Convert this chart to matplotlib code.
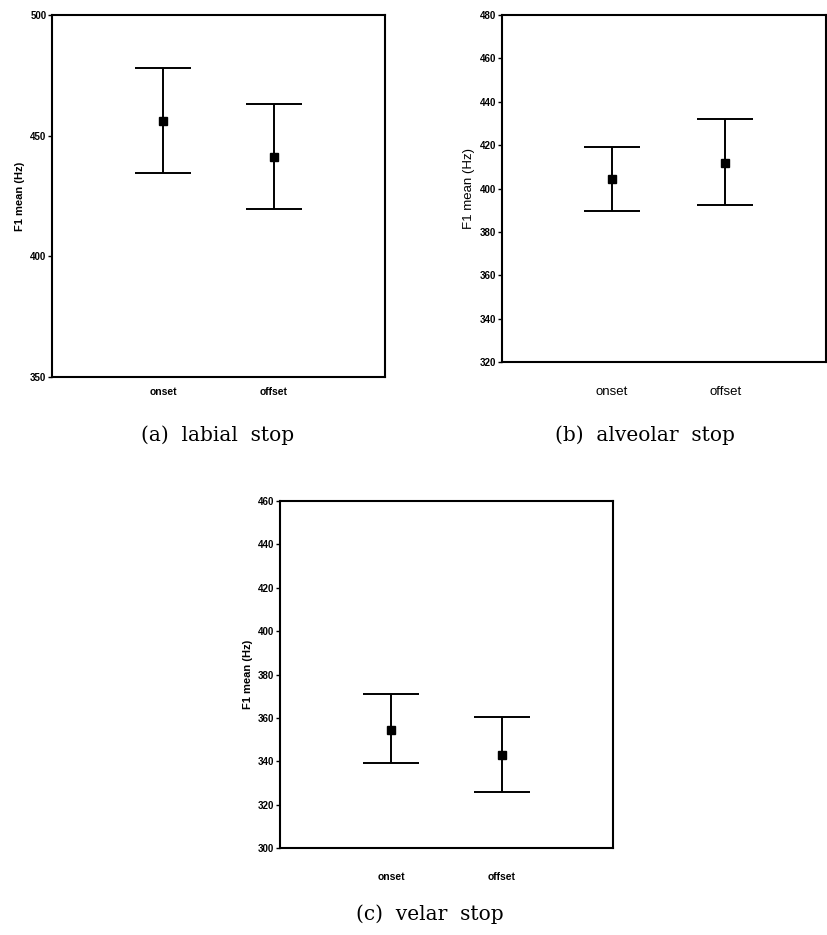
import matplotlib
matplotlib.use('Agg')
import matplotlib.pyplot as plt

# F1 means with upper / lower error bar ends (Hz)
categories = ['onset', 'offset']

labial_mean = [456.0, 441.3]
labial_upper = [478.0, 463.0]
labial_lower = [434.4, 419.5]

alveolar_mean = [404.5, 411.8]
alveolar_upper = [419.3, 432.2]
alveolar_lower = [389.5, 392.5]

velar_mean = [354.6, 343.0]
velar_upper = [371.0, 360.2]
velar_lower = [339.4, 326.0]

labial_ticks = [350, 400, 450, 500]
alveolar_ticks = [320, 340, 360, 380, 400, 420, 440, 460, 480]
velar_ticks = [300, 320, 340, 360, 380, 400, 420, 440, 460]

captions = ['(a)  labial  stop', '(b)  alveolar  stop', '(c)  velar  stop']

SANS = 'Liberation Sans'
SERIF = 'DejaVu Serif'


def draw_panel(ax, means, upper, lower, ticks, bold=True, xfont=7.5,
               xpad=12, xlim=(0, 3)):
    xs = [1, 2]
    err = [[m - lo for m, lo in zip(means, lower)],
           [hi - m for m, hi in zip(means, upper)]]
    ax.errorbar(xs, means, yerr=err, fmt='s', color='black',
                markersize=6, elinewidth=1.4, capsize=20, capthick=1.4)
    ax.set_xlim(*xlim)
    ax.set_ylim(ticks[0], ticks[-1])
    ax.set_yticks(ticks)
    ax.set_xticks(xs)
    weight = 'bold' if bold else 'normal'
    ax.set_yticklabels([str(t) for t in ticks], fontfamily=SANS,
                       fontweight='bold', fontsize=7)
    ax.set_xticklabels(categories, fontfamily=SANS, fontweight=weight,
                       fontsize=xfont)
    ax.tick_params(axis='x', length=0, pad=xpad)
    ax.tick_params(axis='y', length=3, width=1, pad=1, direction='out')
    ax.set_ylabel('F1 mean (Hz)', fontfamily=SANS, fontweight=weight,
                  fontsize=8 if bold else 9.5, labelpad=4)
    for sp in ax.spines.values():
        sp.set_linewidth(1.5)
        sp.set_color('black')


fig = plt.figure(figsize=(8.27, 9.35), dpi=100)

ax_a = fig.add_axes([0.0629, 0.5968, 0.4027, 0.3872])
draw_panel(ax_a, labial_mean, labial_upper, labial_lower, labial_ticks,
           xpad=7.5)

ax_b = fig.add_axes([0.607, 0.6128, 0.3918, 0.3711])
draw_panel(ax_b, alveolar_mean, alveolar_upper, alveolar_lower,
           alveolar_ticks, bold=False, xfont=9.5, xpad=17,
           xlim=(0.03, 2.89))

ax_c = fig.add_axes([0.3386, 0.0930, 0.4027, 0.3711])
draw_panel(ax_c, velar_mean, velar_upper, velar_lower, velar_ticks,
           xpad=17)

fig.text(218 / 827, 1 - 435 / 935, captions[0], ha='center', va='center',
         fontfamily=SERIF, fontsize=14.5)
fig.text(645 / 827, 1 - 435 / 935, captions[1], ha='center', va='center',
         fontfamily=SERIF, fontsize=14.5)
fig.text(430 / 827, 1 - 914 / 935, captions[2], ha='center', va='center',
         fontfamily=SERIF, fontsize=14.5)

fig.savefig('out.png', dpi=100)
